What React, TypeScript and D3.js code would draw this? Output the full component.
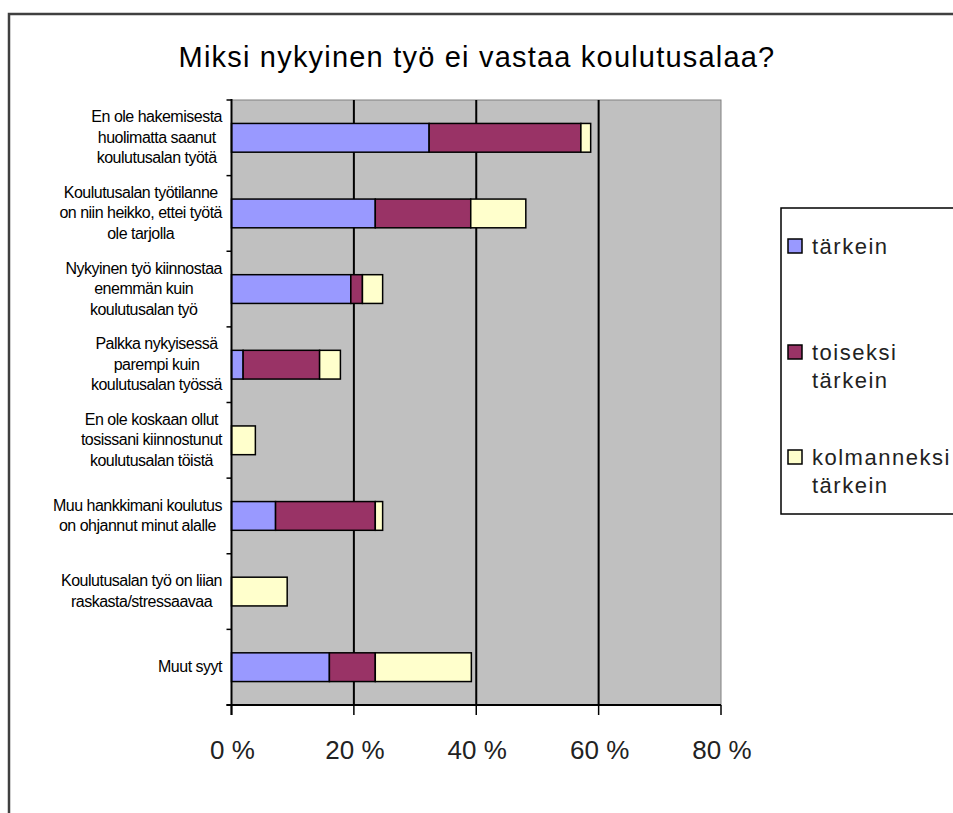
import React, { useEffect, useRef } from 'react';
import * as d3 from 'd3';

const categories = [
  ['En ole hakemisesta', 'huolimatta saanut', 'koulutusalan työtä'],
  ['Koulutusalan työtilanne', 'on niin heikko, ettei työtä', 'ole tarjolla'],
  ['Nykyinen työ kiinnostaa', 'enemmän kuin', 'koulutusalan työ'],
  ['Palkka nykyisessä', 'parempi kuin', 'koulutusalan työssä'],
  ['En ole koskaan ollut', 'tosissani kiinnostunut', 'koulutusalan töistä'],
  ['Muu hankkimani koulutus', 'on ohjannut minut alalle'],
  ['Koulutusalan työ on liian', 'raskasta/stressaavaa'],
  ['Muut syyt'],
];

const tarkein = [32.3, 23.5, 19.5, 1.9, 0, 7.2, 0, 16.0];
const toiseksi = [24.8, 15.6, 1.9, 12.5, 0, 16.3, 0, 7.5];
const kolmanneksi = [1.6, 9.0, 3.3, 3.4, 3.9, 1.2, 9.1, 15.7];

const seriesNames = [['tärkein'], ['toiseksi', 'tärkein'], ['kolmanneksi', 'tärkein']];
const colors = ['#9999FF', '#993366', '#FFFFCC'];
const xTicks = [0, 20, 40, 60, 80];
const title = 'Miksi nykyinen työ ei vastaa koulutusalaa?';

const App = () => {
  const ref = useRef<SVGSVGElement>(null);

  useEffect(() => {
    const svg = d3.select(ref.current);
    svg.selectAll('*').remove();

    const left = 231.5, right = 721, top = 100, bottom = 705;

    const x = d3.scaleLinear().domain([0, 80]).range([left, right]);
    const y = d3.scaleBand<number>()
      .domain(d3.range(categories.length))
      .range([top, bottom])
      .paddingInner(0.62)
      .paddingOuter(0.31);

    const rows = categories.map((_, i) => ({ i, a: tarkein[i], b: toiseksi[i], c: kolmanneksi[i] }));
    const stacked = d3.stack<any>().keys(['a', 'b', 'c'])(rows);

    // outer chart border (open to the right and bottom)
    svg.append('path')
      .attr('d', 'M9,820 L9,14 L960,14')
      .attr('fill', 'none')
      .attr('stroke', '#404040')
      .attr('stroke-width', 2.5);

    svg.append('text')
      .attr('x', 477)
      .attr('y', 67)
      .attr('text-anchor', 'middle')
      .style('font-family', 'Liberation Sans, Arial, sans-serif')
      .style('font-size', '29px')
      .style('letter-spacing', '1.2px')
      .text(title);

    // plot area
    svg.append('rect')
      .attr('x', left).attr('y', top)
      .attr('width', right - left).attr('height', bottom - top)
      .attr('fill', '#C0C0C0')
      .attr('stroke', '#808080')
      .attr('stroke-width', 1);

    svg.append('g')
      .selectAll('line')
      .data(xTicks.filter(t => t > 0 && t < 80))
      .enter()
      .append('line')
      .attr('x1', d => x(d)).attr('x2', d => x(d))
      .attr('y1', top).attr('y2', bottom)
      .attr('stroke', '#000')
      .attr('stroke-width', 2);

    // bars
    stacked.forEach((s, si) => {
      svg.append('g')
        .selectAll('rect')
        .data(s.filter(d => d[1] - d[0] > 0))
        .enter()
        .append('rect')
        .attr('x', d => x(d[0]))
        .attr('y', d => y(d.data.i)!)
        .attr('width', d => x(d[1]) - x(d[0]))
        .attr('height', y.bandwidth())
        .attr('fill', colors[si])
        .attr('stroke', '#000')
        .attr('stroke-width', 1.5);
    });

    // axes
    svg.append('line')
      .attr('x1', left).attr('x2', left).attr('y1', top - 1).attr('y2', bottom + 10)
      .attr('stroke', '#000').attr('stroke-width', 2);
    svg.append('line')
      .attr('x1', left - 5).attr('x2', right).attr('y1', bottom).attr('y2', bottom)
      .attr('stroke', '#000').attr('stroke-width', 2);

    const step = y.step();
    svg.append('g')
      .selectAll('line')
      .data(d3.range(categories.length + 1))
      .enter()
      .append('line')
      .attr('x1', left - 5).attr('x2', left)
      .attr('y1', d => top + d * step).attr('y2', d => top + d * step)
      .attr('stroke', '#000').attr('stroke-width', 1.5);

    svg.append('g')
      .selectAll('line')
      .data(xTicks)
      .enter()
      .append('line')
      .attr('x1', d => x(d)).attr('x2', d => x(d))
      .attr('y1', bottom).attr('y2', bottom + 10)
      .attr('stroke', '#000').attr('stroke-width', 1.5);

    svg.append('g')
      .selectAll('text')
      .data(xTicks)
      .enter()
      .append('text')
      .attr('x', d => x(d) + 1)
      .attr('y', 759)
      .attr('text-anchor', 'middle')
      .style('font-family', 'Liberation Sans, Arial, sans-serif')
      .style('font-size', '26px')
      .style('fill', '#222')
      .text(d => `${d} %`);

    // category labels: block right-aligned, lines centred in block
    const lineH = 20.5;
    categories.forEach((lines, i) => {
      const g = svg.append('g');
      const cy = y(i)! + y.bandwidth() / 2;
      const texts = lines.map((ln, k) =>
        g.append('text')
          .attr('y', cy + (k - (lines.length - 1) / 2) * lineH + 5)
          .attr('text-anchor', 'middle')
          .style('font-family', 'Liberation Sans, Arial, sans-serif')
          .style('font-size', '16px')
          .style('letter-spacing', '-0.5px')
          .text(ln)
      );
      const widths = texts.map(t => (t.node() as SVGTextElement).getComputedTextLength());
      const w = d3.max(widths) || 0;
      texts.forEach(t => t.attr('x', 222 - w / 2));
    });

    // legend
    svg.append('rect')
      .attr('x', 781).attr('y', 208)
      .attr('width', 200).attr('height', 306)
      .attr('fill', '#fff')
      .attr('stroke', '#000')
      .attr('stroke-width', 1.5);

    const legendY = [246, 352, 457];
    seriesNames.forEach((lines, i) => {
      svg.append('rect')
        .attr('x', 788).attr('y', legendY[i] - 7)
        .attr('width', 14).attr('height', 14)
        .attr('fill', colors[i])
        .attr('stroke', '#000')
        .attr('stroke-width', 1.5);
      lines.forEach((ln, k) => {
        svg.append('text')
          .attr('x', 812)
          .attr('y', legendY[i] + 8 + k * 28)
          .style('font-family', 'Liberation Sans, Arial, sans-serif')
          .style('font-size', '22px')
          .style('letter-spacing', '1.5px')
          .style('fill', '#222')
          .text(ln);
      });
    });
  }, []);

  return (
    <svg
      ref={ref}
      width={953}
      height={813}
      style={{ position: 'absolute', left: 0, top: 0, background: '#fff' }}
    />
  );
};

export default App;
